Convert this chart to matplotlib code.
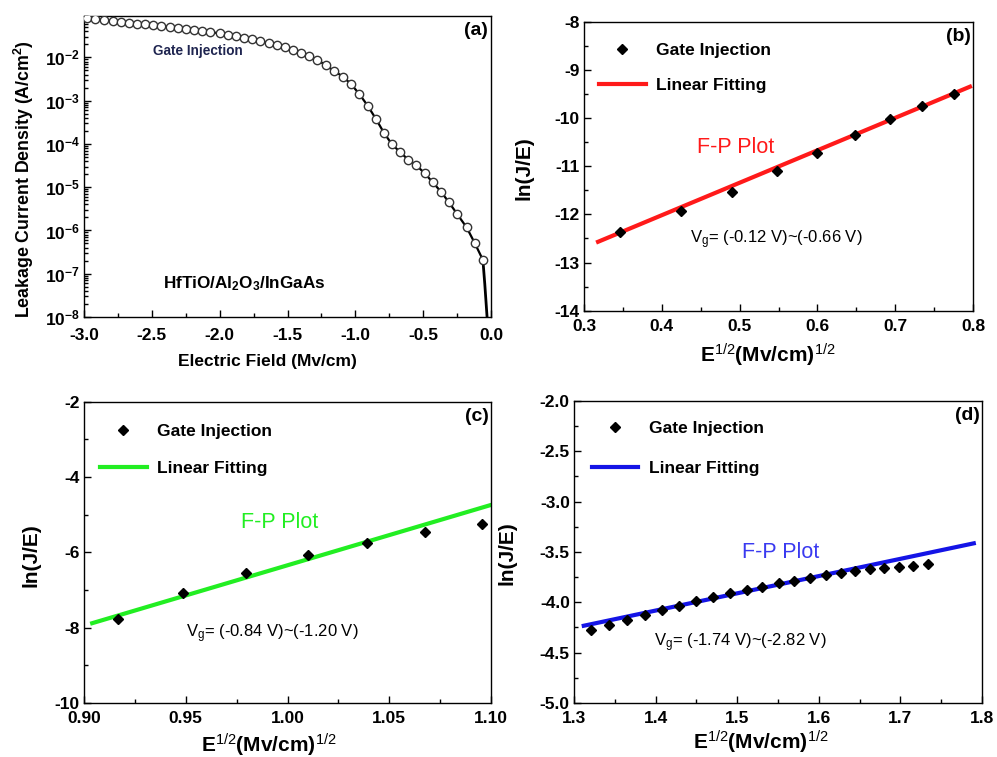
import math
import matplotlib
matplotlib.use('Agg')
import matplotlib.pyplot as plt
from matplotlib.ticker import MultipleLocator, LogLocator, FixedLocator, FuncFormatter, NullFormatter

# ---- data ----
# (a) J-E curve, gate injection
field = [-2.98, -2.92, -2.85, -2.79, -2.73, -2.67, -2.61, -2.55, -2.49, -2.43,
         -2.37, -2.31, -2.25, -2.19, -2.13, -2.07, -2.00, -1.94, -1.88, -1.82,
         -1.76, -1.70, -1.64, -1.58, -1.52, -1.46, -1.40, -1.34, -1.28, -1.22,
         -1.16, -1.09, -1.03, -0.97, -0.91, -0.85, -0.79, -0.73, -0.67, -0.61,
         -0.55, -0.49, -0.43, -0.37, -0.31, -0.25, -0.18, -0.12, -0.06]
current = [0.0804, 0.0762, 0.0735, 0.0697, 0.0661, 0.0637, 0.0604, 0.0583, 0.0552, 0.0524,
           0.0506, 0.0480, 0.0454, 0.0431, 0.0408, 0.0380, 0.0361, 0.0336, 0.0313, 0.0286,
           0.0262, 0.0239, 0.0215, 0.0193, 0.0171, 0.0148, 0.0128, 0.0107, 8.67e-3, 6.64e-3,
           4.91e-3, 3.56e-3, 2.37e-3, 1.41e-3, 7.69e-4, 3.85e-4, 1.82e-4, 9.75e-5, 6.47e-5, 4.30e-5,
           3.18e-5, 2.11e-5, 1.30e-5, 7.93e-6, 4.48e-6, 2.40e-6, 1.18e-6, 5.11e-7, 2.09e-7]
tail_field = [-0.06, -0.046, -0.027]
tail_current = [2.09e-7, 5.8e-8, 8e-9]

# (b) F-P plot, Vg -0.12 ~ -0.66 V
b_x = [0.346, 0.424, 0.490, 0.548, 0.600, 0.648, 0.693, 0.735, 0.775]
b_y = [-12.36, -11.94, -11.53, -11.11, -10.73, -10.35, -10.03, -9.76, -9.51]
b_fit_x = [0.318, 0.796]
b_fit_y = [-12.57, -9.35]

# (c) F-P plot, Vg -0.84 ~ -1.20 V
c_x = [0.9165, 0.9487, 0.9798, 1.0100, 1.0392, 1.0677, 1.0954]
c_y = [-7.76, -7.08, -6.54, -6.08, -5.76, -5.47, -5.25]
c_fit_x = [0.904, 1.10]
c_fit_y = [-7.88, -4.74]

# (d) F-P plot, Vg -1.74 ~ -2.82 V
d_x = [1.321, 1.343, 1.365, 1.387, 1.408, 1.429, 1.450, 1.471, 1.491, 1.512, 1.531,
       1.551, 1.570, 1.589, 1.609, 1.627, 1.645, 1.663, 1.680, 1.698, 1.716, 1.734]
d_y = [-4.275, -4.226, -4.176, -4.130, -4.080, -4.034, -3.991, -3.951, -3.911, -3.879, -3.846,
       -3.812, -3.786, -3.756, -3.730, -3.707, -3.687, -3.673, -3.663, -3.650, -3.637, -3.620]
d_fit_x = [1.312, 1.790]
d_fit_y = [-4.233, -3.415]

plt.rcParams['font.family'] = ['Liberation Sans', 'DejaVu Sans']
plt.rcParams['mathtext.fontset'] = 'custom'
plt.rcParams['mathtext.rm'] = 'Liberation Sans'
plt.rcParams['mathtext.bf'] = 'Liberation Sans:bold'
plt.rcParams['mathtext.it'] = 'Liberation Sans:italic'
plt.rcParams['mathtext.default'] = 'regular'
plt.rcParams['axes.unicode_minus'] = False

fig = plt.figure(figsize=(9.97, 7.57), dpi=100)
ax_a = fig.add_axes([0.0843, 0.5812, 0.4082, 0.3976])
ax_b = fig.add_axes([0.5858, 0.5896, 0.3902, 0.3818])
ax_c = fig.add_axes([0.0843, 0.0713, 0.4082, 0.3980])
ax_d = fig.add_axes([0.5757, 0.0713, 0.4092, 0.3993])


def style_axis(ax, pad):
    ax.tick_params(which='both', direction='in', top=False, right=False, width=1)
    ax.tick_params(which='major', length=5, labelsize=12.5, pad=pad)
    ax.tick_params(which='minor', length=3)
    for lab in ax.get_xticklabels() + ax.get_yticklabels():
        lab.set_fontweight('bold')
    for sp in ax.spines.values():
        sp.set_linewidth(1)


# ---- (a) ----
ax_a.plot(field, current, color='black', lw=1.6, zorder=2)
ax_a.plot(tail_field, tail_current, color='black', lw=2, zorder=2)
ax_a.plot(field, current, 'o', ms=6, mfc='white', mec='#333333', mew=1, zorder=3)
ax_a.set_yscale('log')
ax_a.set_xlim(-3.0, 0.0)
ax_a.set_ylim(1e-8, 0.09)
ax_a.xaxis.set_major_locator(MultipleLocator(0.5))
ax_a.xaxis.set_minor_locator(MultipleLocator(0.25))
ax_a.yaxis.set_major_locator(FixedLocator([1e-8, 1e-7, 1e-6, 1e-5, 1e-4, 1e-3, 1e-2]))
ax_a.yaxis.set_minor_locator(LogLocator(base=10, subs=range(2, 10), numticks=20))
ax_a.yaxis.set_minor_formatter(NullFormatter())
ax_a.yaxis.set_major_formatter(FuncFormatter(lambda v, p: r'$\mathbf{10^{%d}}$' % round(math.log10(v))))
ax_a.xaxis.set_major_formatter(FuncFormatter(lambda v, p: '%.1f' % v))
style_axis(ax_a, 8)
ax_a.tick_params(axis='y', pad=3)
ax_a.set_xlabel('Electric Field (Mv/cm)', fontsize=12.5, fontweight='bold')
ax_a.set_ylabel('Leakage Current Density (A/cm$^2$)', fontsize=12.8, fontweight='bold')
ax_a.xaxis.set_label_coords(0.451, -0.123)
ax_a.yaxis.set_label_coords(-0.117, 0.458)
ax_a.text(0.169, 0.884, 'Gate Injection', transform=ax_a.transAxes, fontsize=9.8,
          fontweight='bold', color='#1f2550', va='center')
ax_a.text(0.193, 0.112, 'HfTiO/Al$_2$O$_3$/InGaAs', transform=ax_a.transAxes, fontsize=12.3,
          fontweight='bold', va='center')
ax_a.text(0.993, 0.953, '(a)', transform=ax_a.transAxes, fontsize=14, fontweight='bold',
          ha='right', va='center')

xlab = r'$\mathbf{E}^{1/2}\mathbf{(Mv/cm)}^{1/2}$'


def fp_panel(ax, x, y, fx, fy, col, txtcol, xlim, ylim, xmaj, xmin, ymaj, ymin,
             xfmt, yfmt, letter, vg, fp_pos, vg_pos, leg_anchor, legsp, xl_pos, yl_pos):
    ax.plot(x, y, 'D', color='black', ms=5.5, label='Gate Injection', zorder=3)
    ax.plot(fx, fy, '-', color=col, lw=3, label='Linear Fitting', zorder=2)
    ax.set_xlim(*xlim)
    ax.set_ylim(*ylim)
    ax.xaxis.set_major_locator(MultipleLocator(xmaj))
    ax.xaxis.set_minor_locator(MultipleLocator(xmin))
    ax.yaxis.set_major_locator(MultipleLocator(ymaj))
    ax.yaxis.set_minor_locator(MultipleLocator(ymin))
    ax.xaxis.set_major_formatter(FuncFormatter(lambda v, p: xfmt % v))
    ax.yaxis.set_major_formatter(FuncFormatter(lambda v, p: yfmt % v))
    style_axis(ax, 6)
    ax.tick_params(axis='y', pad=3)
    ax.set_xlabel(xlab, fontsize=15)
    ax.set_ylabel('ln(J/E)', fontsize=15, fontweight='bold')
    ax.xaxis.set_label_coords(*xl_pos)
    ax.yaxis.set_label_coords(*yl_pos)
    leg = ax.legend(loc='upper left', bbox_to_anchor=leg_anchor, frameon=False,
                    fontsize=12.5, handlelength=2.7, handletextpad=0.6,
                    labelspacing=legsp, borderpad=0, borderaxespad=0, numpoints=1)
    for t in leg.get_texts():
        t.set_fontweight('bold')
    ax.text(*fp_pos, 'F-P Plot', transform=ax.transAxes, fontsize=15.5, color=txtcol,
            va='center')
    ax.text(*vg_pos, vg, transform=ax.transAxes, fontsize=12, va='center')
    ax.text(0.995, 0.95, letter, transform=ax.transAxes, fontsize=14, fontweight='bold',
            ha='right', va='center')


fp_panel(ax_b, b_x, b_y, b_fit_x, b_fit_y, '#ff1a1a', '#ff1a1a', (0.3, 0.8), (-14, -8),
         0.1, 0.05, 1, 0.5, '%.1f', '%d', '(b)', r'V$_g$= (-0.12 V)~(-0.66 V)',
         (0.290, 0.564), (0.2725, 0.245), (0.0386, 0.926), 1.14,
         (0.4717, -0.107), (-0.131, 0.493))
fp_panel(ax_c, c_x, c_y, c_fit_x, c_fit_y, '#22ee22', '#22ee22', (0.9, 1.1), (-10, -2),
         0.05, 0.025, 2, 1, '%.2f', '%d', '(c)', r'V$_g$= (-0.84 V)~(-1.20 V)',
         (0.385, 0.598), (0.250, 0.231), (0.039, 0.925), 1.24,
         (0.4545, -0.095), (-0.108, 0.491))
fp_panel(ax_d, d_x, d_y, d_fit_x, d_fit_y, '#1414e6', '#3a3af0', (1.3, 1.8), (-5.0, -2.0),
         0.1, 0.05, 0.5, 0.25, '%.1f', '%.1f', '(d)', r'V$_g$= (-1.74 V)~(-2.82 V)',
         (0.413, 0.497), (0.196, 0.201), (0.043, 0.934), 1.42,
         (0.458, -0.084), (-0.140, 0.495))

fig.savefig('out.png', dpi=100)
